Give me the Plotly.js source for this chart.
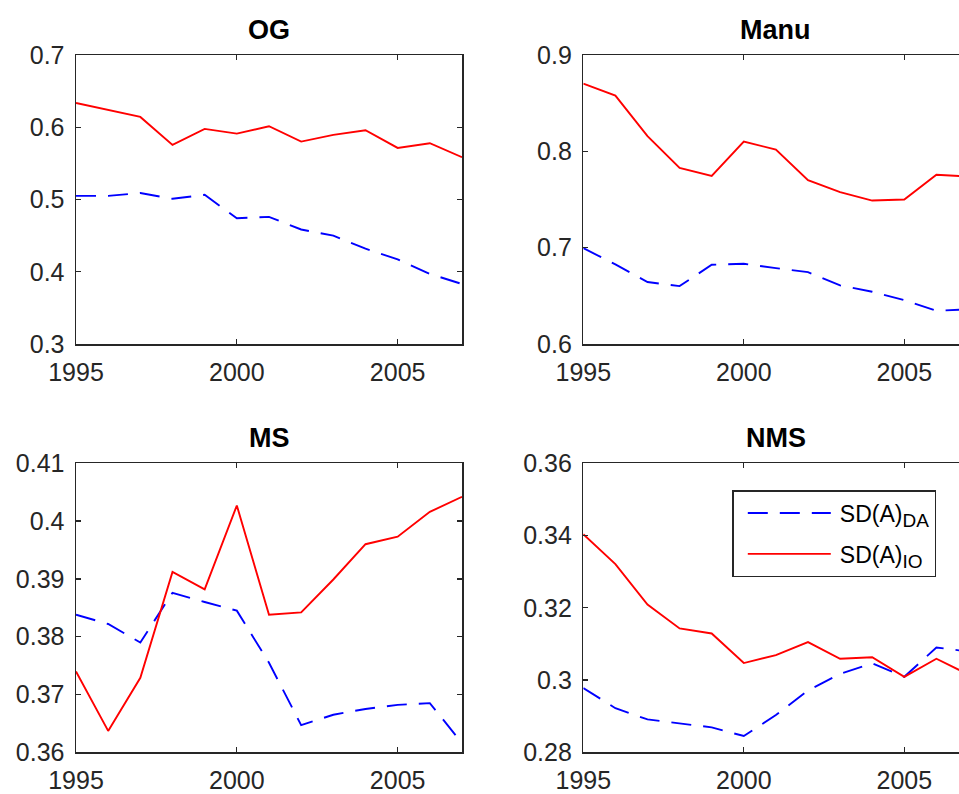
<!DOCTYPE html>
<html>
<head>
<meta charset="utf-8">
<script src="https://cdn.plot.ly/plotly-3.0.1.min.js"></script>
<style>
html,body{margin:0;padding:0;overflow:hidden;background:#fff;}
#chart{width:975px;height:794px;}
</style>
</head>
<body>
<div id="chart"></div>
<script>
// ---- data ----
var years = [1995,1996,1997,1998,1999,2000,2001,2002,2003,2004,2005,2006,2007];
var panelTitles = ["OG","Manu","MS","NMS"];
var seriesNames = ["SD(A)<sub><span style=\"font-size:19px\">DA</span></sub>",
                   "SD(A)<sub><span style=\"font-size:19px\">IO</span></sub>"];

var og_da   = [0.505,0.505,0.509,0.501,0.5065,0.474,0.476,0.4585,0.450,0.432,0.417,0.397,0.383];
var og_io   = [0.6336,0.624,0.6143,0.5756,0.5977,0.5912,0.6014,0.5802,0.5894,0.5959,0.5714,0.5779,0.5585];
var manu_da = [0.6995,0.6826,0.6643,0.6601,0.6822,0.6833,0.6788,0.6746,0.6608,0.6542,0.6456,0.6345,0.636];
var manu_io = [0.8703,0.8578,0.8157,0.7828,0.7745,0.8101,0.8018,0.770,0.7576,0.7489,0.750,0.7756,0.774];
var ms_da   = [0.3838,0.3822,0.3790,0.3876,0.3860,0.3845,0.3755,0.3647,0.3665,0.3675,0.3682,0.3685,0.3616];
var ms_io   = [0.3740,0.3637,0.3729,0.3912,0.3882,0.4027,0.3838,0.3842,0.3899,0.3960,0.3973,0.4016,0.4042];
var nms_da  = [0.2978,0.2922,0.2891,0.2880,0.2869,0.2845,0.2903,0.2971,0.3017,0.3046,0.3009,0.3090,0.3079];
var nms_io  = [0.3404,0.3321,0.3209,0.3143,0.3129,0.3047,0.3069,0.3105,0.3059,0.3063,0.3009,0.3059,0.3015];

var xTicks = [1995,2000,2005];
var og_yticks   = [0.3,0.4,0.5,0.6,0.7];
var og_ylabels  = ["0.3","0.4","0.5","0.6","0.7"];
var manu_yticks = [0.6,0.7,0.8,0.9];
var manu_ylabels= ["0.6","0.7","0.8","0.9"];
var ms_yticks   = [0.36,0.37,0.38,0.39,0.40,0.41];
var ms_ylabels  = ["0.36","0.37","0.38","0.39","0.4","0.41"];
var nms_yticks  = [0.28,0.30,0.32,0.34,0.36];
var nms_ylabels = ["0.28","0.3","0.32","0.34","0.36"];

// ---- layout geometry ----
var W = 975, H = 794;
var FONT = '"Liberation Sans", Arial, Helvetica, sans-serif';
var AX = '#262626';

function px2x(p){ return p / W; }
function px2y(p){ return 1 - p / H; }

var cols = [[76, 462], [583.3, 968.5]];
var rows = [[55, 344], [463.3, 752.3]];

var daSeries = [og_da, manu_da, ms_da, nms_da];
var ioSeries = [og_io, manu_io, ms_io, nms_io];
var yTicksAll = [og_yticks, manu_yticks, ms_yticks, nms_yticks];
var yLabelsAll = [og_ylabels, manu_ylabels, ms_ylabels, nms_ylabels];
var yRanges = [[0.3,0.7],[0.6,0.9],[0.36,0.41],[0.28,0.36]];

var traces = [];
var layout = {
  width: W, height: H,
  margin: {l:0, r:0, t:0, b:0},
  paper_bgcolor: '#fff', plot_bgcolor: '#fff',
  font: {family: FONT, color: AX, size: 25},
  showlegend: true,
  legend: {
    x: px2x(732.3), y: px2y(490), xanchor: 'left', yanchor: 'top',
    bgcolor: '#fff', bordercolor: AX, borderwidth: 1.5,
    font: {family: FONT, size: 23, color: '#000'},
    itemwidth: 96, tracegroupgap: 8, traceorder: 'grouped'
  },
  annotations: [],
  hovermode: false
};

for (var i = 0; i < 4; i++) {
  var r = Math.floor(i / 2), c = i % 2;
  var xa = 'xaxis' + (i === 0 ? '' : (i + 1));
  var ya = 'yaxis' + (i === 0 ? '' : (i + 1));
  var xr = 'x' + (i === 0 ? '' : (i + 1));
  var yr = 'y' + (i === 0 ? '' : (i + 1));
  layout[xa] = {
    domain: [px2x(cols[c][0]), px2x(cols[c][1])],
    range: [1995, 2007], anchor: yr,
    tickvals: xTicks, ticktext: xTicks.map(String),
    ticks: 'inside', ticklen: 5, tickwidth: 1.2, tickcolor: AX,
    showline: true, linecolor: AX, linewidth: 1.5, mirror: 'ticks',
    showgrid: false, zeroline: false,
    tickfont: {family: FONT, size: 25, color: AX},
    ticklabelstandoff: 5
  };
  layout[ya] = {
    domain: [px2y(rows[r][1]), px2y(rows[r][0])],
    range: yRanges[i], anchor: xr,
    tickvals: yTicksAll[i], ticktext: yLabelsAll[i],
    ticks: 'inside', ticklen: 5, tickwidth: 1.2, tickcolor: AX,
    showline: true, linecolor: AX, linewidth: 1.5, mirror: 'ticks',
    showgrid: false, zeroline: false,
    tickfont: {family: FONT, size: 25, color: AX},
    ticklabelstandoff: 5
  };
  traces.push({
    x: years, y: daSeries[i], xaxis: xr, yaxis: yr, type: 'scatter', mode: 'lines',
    name: seriesNames[0], showlegend: i === 3, legendgroup: 'da',
    line: {color: '#0000ff', width: 1.9, dash: '20px,12px'}
  });
  traces.push({
    x: years, y: ioSeries[i], xaxis: xr, yaxis: yr, type: 'scatter', mode: 'lines',
    name: seriesNames[1], showlegend: i === 3, legendgroup: 'io',
    line: {color: '#ff0000', width: 1.9}
  });
  layout.annotations.push({
    text: '<b>' + panelTitles[i] + '</b>',
    xref: 'paper', yref: 'paper',
    x: px2x((cols[c][0] + cols[c][1]) / 2), y: px2y(rows[r][0] - 25),
    xanchor: 'center', yanchor: 'middle', showarrow: false,
    font: {family: FONT, size: 27, color: '#000'}
  });
}

Plotly.newPlot('chart', traces, layout, {staticPlot: true, displayModeBar: false}).then(function(gd){
  // lengthen the legend line samples to match the MATLAB legend
  gd.querySelectorAll('.legend .legendlines path').forEach(function(p){
    p.setAttribute('d', 'M14,0h83');
  });
});
</script>
</body>
</html>
